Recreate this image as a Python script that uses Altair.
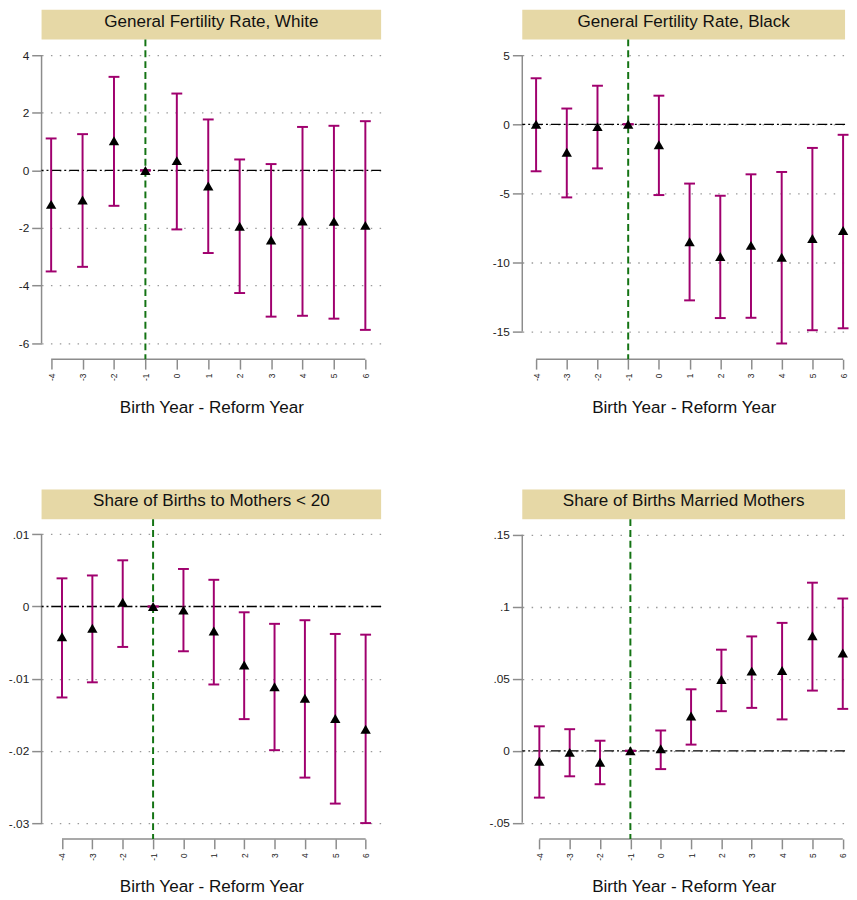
import altair as alt
import pandas as pd

# ---------------- data ----------------
REL = [-4, -3, -2, -1, 0, 1, 2, 3, 4, 5, 6]
XLABELS = ["-4", "-3", "-2", "-1", "0", "1", "2", "3", "4", "5", "6"]
XTITLE = "Birth Year - Reform Year"

white_title = "General Fertility Rate, White"
white_est = [-1.18, -1.03, 1.03, 0, 0.34, -0.54, -1.94, -2.42, -1.76, -1.77, -1.91]
white_lo = [-3.51, -3.35, -1.23, 0, -2.05, -2.87, -4.26, -5.08, -5.05, -5.15, -5.54]
white_hi = [1.11, 1.26, 3.25, 0, 2.67, 1.77, 0.38, 0.22, 1.51, 1.55, 1.71]
white_ticks = [4, 2, 0, -2, -4, -6]
white_labels = ["4", "2", "0", "-2", "-4", "-6"]

black_title = "General Fertility Rate, Black"
black_est = [0.0, -2.02, -0.17, 0, -1.48, -8.50, -9.57, -8.76, -9.62, -8.26, -7.69]
black_lo = [-3.40, -5.29, -3.19, 0, -5.12, -12.74, -14.02, -14.00, -15.86, -14.90, -14.76]
black_hi = [3.33, 1.14, 2.79, 0, 2.07, -4.29, -5.17, -3.62, -3.45, -1.71, -0.76]
black_ticks = [5, 0, -5, -10, -15]
black_labels = ["5", "0", "-5", "-10", "-15"]

teen_title = "Share of Births to Mothers < 20"
teen_est = [-0.0042, -0.0030, 0.0006, 0, -0.0005, -0.0034, -0.0081, -0.0111, -0.0127, -0.0155, -0.0170]
teen_lo = [-0.0126, -0.0105, -0.0056, 0, -0.0062, -0.0108, -0.0156, -0.0199, -0.0237, -0.0273, -0.0300]
teen_hi = [0.0039, 0.0043, 0.0064, 0, 0.0052, 0.0037, -0.0008, -0.0024, -0.0019, -0.0038, -0.0039]
teen_ticks = [0.01, 0, -0.01, -0.02, -0.03]
teen_labels = [".01", "0", "-.01", "-.02", "-.03"]

mar_title = "Share of Births Married Mothers"
mar_est = [-0.0073, -0.0011, -0.0080, 0, 0.0014, 0.0241, 0.0495, 0.0553, 0.0557, 0.0798, 0.0679]
mar_lo = [-0.0325, -0.0177, -0.0232, 0, -0.0127, 0.0043, 0.0275, 0.0298, 0.0218, 0.0418, 0.0291]
mar_hi = [0.0170, 0.0150, 0.0070, 0, 0.0141, 0.0427, 0.0702, 0.0794, 0.0888, 0.1167, 0.1057]
mar_ticks = [0.15, 0.1, 0.05, 0, -0.05]
mar_labels = [".15", ".1", ".05", "0", "-.05"]

# ---------------- styles ----------------
FONT = "Liberation Sans, Arial, sans-serif"
BAND = "#E6D8A6"
CI = "#A0006E"
GREEN = "#137313"
AX = "#8C8C8C"
H = 324
BAND_H = 30
TFS = 17.3
W1, W2 = 344, 327      # plot widths of left / right column
E1, E2 = 34, 40        # y-axis extents of left / right column


def lab_expr(values, labels):
    parts = [f"abs(datum.value - ({v})) < 0.000001 ? '{l}'" for v, l in zip(values, labels)]
    return " : ".join(parts) + " : ''"


def panel(title, est, lo, hi, ydom, yticks, ylabels, xdom, w, yext):
    df = pd.DataFrame({"x": REL, "est": est, "lo": lo, "hi": hi})
    ref = pd.DataFrame({"zero": [0], "reform": [-1], "ytop": [max(yticks)],
                        "ybot": [min(yticks)], "xa": [REL[0]], "xb": [REL[-1]],
                        "t": [title]})
    xs = alt.Scale(domain=xdom, nice=False, zero=False)
    ys = alt.Scale(domain=ydom, nice=False, zero=False)
    xaxis = alt.Axis(values=REL, labelExpr=lab_expr(REL, XLABELS), labelAngle=-90,
                     labelFont=FONT, labelFontSize=8.5, labelColor="#222",
                     labelPadding=4, tickSize=10, tickColor=AX, tickWidth=1.5,
                     domain=False, grid=False, title=XTITLE, titleFont=FONT,
                     titleFontSize=TFS, titleFontWeight="normal", titleColor="#111",
                     titlePadding=18, labelFlush=False, labelOverlap=False)
    yaxis = alt.Axis(values=yticks, labelExpr=lab_expr(yticks, ylabels),
                     labelFont=FONT, labelFontSize=12, labelColor="#222",
                     labelPadding=3, tickSize=10, tickColor=AX, tickWidth=1.5,
                     domain=False, grid=True, gridColor="#9a9a9a",
                     gridDash=[1.5, 7.5], gridWidth=1.3, title=None,
                     minExtent=yext, maxExtent=yext,
                     labelFlush=False, labelOverlap=False)

    def X(f):
        return alt.X(f, type="quantitative", scale=xs, axis=xaxis)

    def Y(f):
        return alt.Y(f, type="quantitative", scale=ys, axis=yaxis)

    band = alt.Chart(ref).mark_rect(color=BAND).encode(
        x=alt.value(0), x2=alt.value(w), y=alt.value(-BAND_H), y2=alt.value(0))
    btxt = alt.Chart(ref).mark_text(font=FONT, fontSize=TFS, color="#111",
                                    baseline="alphabetic").encode(
        x=alt.value(w / 2), y=alt.value(-13), text="t:N")
    ydom_line = alt.Chart(ref).mark_rule(color=AX, strokeWidth=1.5).encode(
        x=alt.value(0), y=Y("ytop"), y2="ybot:Q")
    xdom_line = alt.Chart(ref).mark_rule(color=AX, strokeWidth=1.5).encode(
        y=alt.value(H), x=X("xa"), x2="xb:Q")
    zero = alt.Chart(ref).mark_rule(color="black", strokeDash=[10, 3, 2, 3],
                                    strokeWidth=1.3).encode(y=Y("zero"))
    green = alt.Chart(ref).mark_rule(color=GREEN, strokeDash=[7, 4],
                                     strokeWidth=2).encode(x=X("reform"))
    ci = alt.Chart(df).mark_rule(color=CI, strokeWidth=2).encode(
        x=X("x"), y=Y("lo"), y2="hi:Q")
    cap_lo = alt.Chart(df).mark_tick(color=CI, orient="horizontal", size=11,
                                     thickness=2, opacity=1).encode(x=X("x"), y=Y("lo"))
    cap_hi = alt.Chart(df).mark_tick(color=CI, orient="horizontal", size=11,
                                     thickness=2, opacity=1).encode(x=X("x"), y=Y("hi"))
    pts = alt.Chart(df).mark_point(shape="triangle-up", filled=True, color="black",
                                   size=110, opacity=1).encode(x=X("x"), y=Y("est"))
    return alt.layer(band, btxt, ydom_line, xdom_line, zero, green, ci, cap_lo,
                     cap_hi, pts).properties(width=w, height=H)


p1 = panel(white_title, white_est, white_lo, white_hi, [-6.56, 4.55],
           white_ticks, white_labels, [-4.305, 6.502], W1, E1)
p2 = panel(black_title, black_est, black_lo, black_hi, [-17.0, 6.14],
           black_ticks, black_labels, [-4.45, 6.064], W2, E2)
p3 = panel(teen_title, teen_est, teen_lo, teen_hi, [-0.0322, 0.0121],
           teen_ticks, teen_labels, [-4.673, 6.51], W1, E1)
p4 = panel(mar_title, mar_est, mar_lo, mar_hi, [-0.0612, 0.1608],
           mar_ticks, mar_labels, [-4.563, 6.075], W2, E2)

chart = alt.concat(p1, p2, p3, p4, columns=2,
                   spacing={"row": 75, "column": 102}).properties(
    padding={"left": 0, "top": -4, "right": 0, "bottom": 0}
).configure_view(stroke=None)

chart.save("out.html", embed_options={"renderer": "svg", "actions": False})
